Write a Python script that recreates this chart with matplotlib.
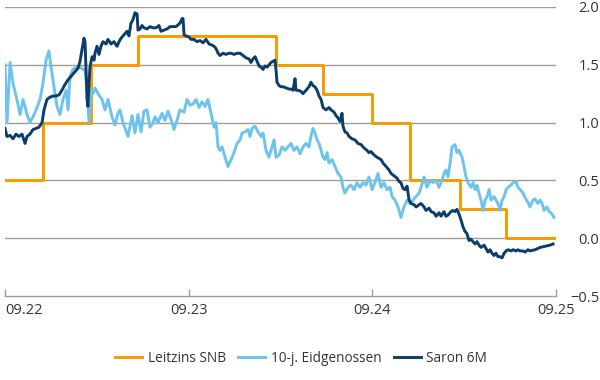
import matplotlib
matplotlib.use("Agg")
import matplotlib.pyplot as plt

plt.rcParams['font.family'] = ['Open Sans', 'DejaVu Sans']

# x values: months since end of Sep 2022
snb_t = [0.0, 2.48, 5.62, 8.69, 17.71, 20.78, 23.98, 26.46, 29.73, 32.74, 36.0]
snb_v = [0.5, 1.0, 1.5, 1.75, 1.5, 1.25, 1.0, 0.5, 0.25, 0.0, 0.0]

eid_t = [0.0, 0.13, 0.33, 0.52, 0.78, 0.98, 1.18, 1.44, 1.63, 1.83, 2.03, 2.29, 2.48, 2.68, 2.87,
         3.01, 3.20, 3.40, 3.59, 3.79, 3.99, 4.12, 4.25, 4.44, 4.64, 4.90, 5.23, 5.36, 5.49, 5.62,
         5.75, 5.88, 6.08, 6.34, 6.53, 6.73, 6.99, 7.19, 7.38, 7.51, 7.71, 8.04, 8.30, 8.49, 8.69,
         8.89, 9.08, 9.28, 9.47, 9.67, 9.80, 10.00, 10.26, 10.45, 10.65, 10.91, 11.04, 11.24, 11.43,
         11.70, 11.89, 12.09, 12.28, 12.48, 12.68, 12.87, 13.07, 13.26, 13.46, 13.66, 13.79, 13.92,
         14.05, 14.18, 14.38, 14.57, 14.77, 14.96, 15.16, 15.36, 15.49, 15.68, 15.88, 16.01, 16.14,
         16.34, 16.53, 16.73, 16.86, 17.05, 17.25, 17.45, 17.58, 17.71, 17.91, 18.10, 18.30, 18.49,
         18.69, 18.88, 19.08, 19.28, 19.47, 19.67, 19.86, 19.99, 20.12, 20.25, 20.39, 20.52, 20.65,
         20.78, 20.91, 21.04, 21.17, 21.37, 21.56, 21.76, 21.95, 22.08, 22.21, 22.41, 22.61, 22.80,
         23.00, 23.19, 23.39, 23.59, 23.78, 23.98, 24.17, 24.37, 24.57, 24.76, 24.96, 25.16, 25.29,
         25.48, 25.68, 25.87, 26.07, 26.27, 26.46, 26.66, 26.85, 27.05, 27.18, 27.38, 27.57, 27.77,
         27.96, 28.16, 28.36, 28.55, 28.68, 28.81, 28.94, 29.08, 29.21, 29.40, 29.53, 29.66, 29.86,
         29.99, 30.12, 30.25, 30.45, 30.58, 30.71, 30.84, 30.97, 31.10, 31.24, 31.37, 31.50, 31.63,
         31.76, 31.95, 32.08, 32.21, 32.34, 32.48, 32.61, 32.74, 32.87, 33.06, 33.19, 33.39, 33.52,
         33.65, 33.85, 33.98, 34.17, 34.30, 34.50, 34.63, 34.82, 34.96, 35.09, 35.22, 35.41, 35.55,
         35.68, 35.87]
eid_v = [1.50, 1.00, 1.52, 1.34, 1.20, 1.07, 1.20, 1.07, 1.00, 1.05, 1.11, 1.20, 1.34, 1.54, 1.62,
         1.48, 1.31, 1.14, 1.07, 1.20, 1.28, 1.11, 1.40, 1.46, 1.48, 1.48, 1.45, 1.30, 1.00, 1.28,
         1.25, 1.30, 1.25, 1.20, 1.11, 1.20, 1.05, 0.98, 1.08, 1.11, 1.00, 0.88, 1.06, 0.91, 1.07,
         0.92, 1.10, 1.11, 0.96, 1.00, 1.05, 1.00, 1.08, 1.02, 1.10, 1.00, 0.94, 1.02, 1.11,
         1.09, 1.20, 1.15, 1.16, 1.20, 1.13, 1.18, 1.14, 1.20, 1.08, 0.96, 1.00, 0.79,
         0.76, 0.79, 0.70, 0.62, 0.68, 0.74, 0.82, 0.85, 0.91, 0.92, 0.94, 0.88, 0.95,
         0.97, 0.92, 0.88, 0.91, 0.76, 0.70, 0.79, 0.85, 0.70, 0.72, 0.79, 0.76, 0.79,
         0.82, 0.76, 0.79, 0.73, 0.79, 0.82, 0.79, 0.88, 0.95, 0.91, 0.85, 0.82, 0.76,
         0.70, 0.68, 0.74, 0.65, 0.68, 0.62, 0.56, 0.53, 0.44, 0.39, 0.44, 0.46, 0.42,
         0.48, 0.44, 0.48, 0.46, 0.53, 0.42, 0.48, 0.56, 0.44, 0.48, 0.42, 0.44, 0.36,
         0.33, 0.27, 0.18, 0.27, 0.33, 0.30, 0.33, 0.36, 0.39, 0.44, 0.53, 0.44, 0.50,
         0.48, 0.50, 0.44, 0.50, 0.56, 0.59, 0.53, 0.65, 0.79, 0.81, 0.74, 0.76, 0.70,
         0.62, 0.53, 0.48, 0.44, 0.48, 0.42, 0.46, 0.39, 0.33, 0.24, 0.33, 0.36, 0.42,
         0.33, 0.36, 0.33, 0.30, 0.24, 0.33, 0.36, 0.42, 0.44, 0.46, 0.48, 0.49, 0.44,
         0.42, 0.39, 0.35, 0.31, 0.27, 0.33, 0.34, 0.30, 0.33, 0.30, 0.24, 0.27, 0.23,
         0.22, 0.18]

sar_t = [0.0, 0.13, 0.33, 0.52, 0.72, 0.91, 1.11, 1.31, 1.44, 1.63, 1.83, 2.03, 2.22, 2.42, 2.55,
         2.74, 2.94, 3.14, 3.33, 3.53, 3.72, 3.92, 4.12, 4.38, 4.57, 4.77, 4.90, 5.03, 5.16, 5.23,
         5.29, 5.36, 5.42, 5.49, 5.55, 5.69, 5.82, 5.88, 6.01, 6.14, 6.27, 6.40, 6.60, 6.73, 6.93,
         7.12, 7.32, 7.45, 7.58, 7.78, 7.97, 8.10, 8.23, 8.36, 8.49, 8.63, 8.69, 8.82, 8.95, 9.08,
         9.28, 9.47, 9.67, 9.87, 10.06, 10.19, 10.39, 10.58, 10.78, 10.98, 11.17, 11.43, 11.57, 11.63,
         11.70, 11.83, 12.02, 12.15, 12.35, 12.55, 12.74, 12.94, 13.13, 13.33, 13.53, 13.66, 13.79,
         13.92, 14.05, 14.25, 14.44, 14.64, 14.77, 14.96, 15.16, 15.36, 15.55, 15.75, 15.95, 16.07,
         16.20, 16.34, 16.47, 16.60, 16.73, 16.86, 16.99, 17.12, 17.25, 17.38, 17.51, 17.64, 17.71,
         17.77, 17.91, 18.04, 18.17, 18.36, 18.56, 18.69, 18.82, 18.95, 19.01, 19.14, 19.34, 19.47,
         19.67, 19.86, 19.99, 20.12, 20.25, 20.39, 20.52, 20.65, 20.78, 20.97, 21.17, 21.30, 21.50,
         21.63, 21.76, 21.89, 22.02, 22.08, 22.21, 22.35, 22.48, 22.67, 22.87, 23.06, 23.26, 23.46,
         23.65, 23.78, 23.91, 24.11, 24.31, 24.44, 24.57, 24.70, 24.90, 25.09, 25.22, 25.42, 25.61,
         25.74, 25.87, 26.01, 26.14, 26.27, 26.40, 26.53, 26.73, 26.86, 27.05, 27.18, 27.38, 27.51,
         27.71, 27.84, 28.03, 28.16, 28.36, 28.49, 28.68, 28.81, 28.94, 29.14, 29.27, 29.40, 29.53,
         29.66, 29.79, 29.92, 30.05, 30.18, 30.32, 30.45, 30.58, 30.71, 30.84, 30.97, 31.10, 31.30,
         31.43, 31.56, 31.69, 31.82, 31.95, 32.08, 32.21, 32.34, 32.48, 32.61, 32.74, 32.87, 33.06,
         33.19, 33.39, 33.52, 33.65, 33.85, 33.98, 34.17, 34.30, 34.63, 34.96, 35.28, 35.61, 35.81]
sar_v = [0.95, 0.88, 0.89, 0.86, 0.90, 0.88, 0.90, 0.82, 0.88, 0.90, 0.94, 0.95, 0.96, 1.00, 1.11,
         1.20, 1.22, 1.23, 1.23, 1.24, 1.28, 1.33, 1.37, 1.41, 1.44, 1.47, 1.53, 1.63, 1.73, 1.70,
         1.48, 1.20, 1.14, 1.34, 1.48, 1.57, 1.54, 1.60, 1.66, 1.59, 1.66, 1.70, 1.68, 1.72, 1.68,
         1.70, 1.66, 1.70, 1.73, 1.76, 1.79, 1.75, 1.86, 1.89, 1.95, 1.94, 1.80, 1.81, 1.84, 1.82,
         1.81, 1.83, 1.82, 1.82, 1.84, 1.79, 1.80, 1.81, 1.83, 1.83, 1.83, 1.86, 1.90, 1.90,
         1.76, 1.75, 1.74, 1.72, 1.72, 1.70, 1.71, 1.69, 1.72, 1.68, 1.67, 1.66, 1.64,
         1.60, 1.58, 1.60, 1.59, 1.60, 1.60, 1.59, 1.60, 1.60, 1.58, 1.56, 1.55, 1.52,
         1.55, 1.57, 1.53, 1.49, 1.48, 1.46, 1.49, 1.48, 1.50, 1.52, 1.53, 1.54, 1.45,
         1.35, 1.32, 1.31, 1.31, 1.30, 1.29, 1.29, 1.28, 1.38, 1.28, 1.28, 1.27, 1.25,
         1.28, 1.31, 1.35, 1.32, 1.31, 1.28, 1.23, 1.20, 1.13, 1.11, 1.13, 1.11, 1.09,
         1.06, 1.04, 1.01, 1.08, 0.97, 0.92, 0.91, 0.88, 0.86, 0.85, 0.82, 0.81, 0.78,
         0.76, 0.74, 0.75, 0.72, 0.70, 0.69, 0.68, 0.65, 0.62, 0.59, 0.56, 0.54, 0.52,
         0.49, 0.48, 0.43, 0.42, 0.45, 0.33, 0.30, 0.29, 0.27, 0.29, 0.30, 0.27, 0.24,
         0.26, 0.23, 0.22, 0.19, 0.22, 0.19, 0.23, 0.19, 0.20, 0.23, 0.24, 0.23, 0.25,
         0.21, 0.16, 0.10, 0.06, 0.04, -0.02, -0.01, -0.03, -0.05, -0.03, -0.06, -0.08, -0.06,
         -0.09, -0.12, -0.10, -0.13, -0.15, -0.13, -0.16, -0.16, -0.17, -0.13, -0.11, -0.10, -0.11,
         -0.10, -0.11, -0.10, -0.11, -0.11, -0.12, -0.10, -0.11, -0.10, -0.08, -0.07, -0.06, -0.05]

x_ticks = [0, 12, 24, 36]
x_labels = ["09.22", "09.23", "09.24", "09.25"]
y_ticks = [-0.5, 0.0, 0.5, 1.0, 1.5, 2.0]
y_labels = ["\u22120.5", "0.0", "0.5", "1.0", "1.5", "2.0"]

c_snb = "#F59B00"
c_eid = "#6CC4EE"
c_sar = "#0B3D6B"
c_grid = "#A29D93"

fig = plt.figure(figsize=(6, 3.8), dpi=100)
ax = fig.add_axes([5/600, 1 - 296/380, 551/600, 289/380])

for yv in y_ticks[1:]:
    ax.axhline(yv, color=c_grid, lw=1.0, zorder=1)

ax.step(snb_t, snb_v, where='post', color=c_snb, lw=2.1, label="Leitzins SNB", zorder=2)
ax.plot(eid_t, eid_v, color=c_eid, lw=2.1, label="10-j. Eidgenossen", zorder=3)
ax.plot(sar_t, sar_v, color=c_sar, lw=2.1, label="Saron 6M", zorder=4)

ax.set_xlim(0, 36)
ax.set_ylim(-0.5, 2.0)
for s in ['top', 'left', 'right']:
    ax.spines[s].set_visible(False)
ax.spines['bottom'].set_color(c_grid)
ax.spines['bottom'].set_linewidth(1.0)

ax.set_xticks(x_ticks)
ax.set_xticklabels(x_labels)
ax.tick_params(axis='x', direction='in', length=5, color=c_grid, width=1.0,
               labelsize=10.5, labelcolor="#333333", pad=5)
xt = ax.get_xticklabels()
xt[0].set_horizontalalignment('left')

ax.yaxis.tick_right()
ax.set_yticks(y_ticks)
ax.set_yticklabels(y_labels)
ax.tick_params(axis='y', length=0, labelsize=10.5, labelcolor="#333333", pad=31)
for t in ax.get_yticklabels():
    t.set_horizontalalignment('right')

fig.legend(loc='center', bbox_to_anchor=(301/600, 1 - 358/380), ncol=3, frameon=False,
           fontsize=9.8, handlelength=2.0, handletextpad=0.4, columnspacing=0.9,
           labelcolor="#333333")

fig.savefig("out.png", dpi=100)
